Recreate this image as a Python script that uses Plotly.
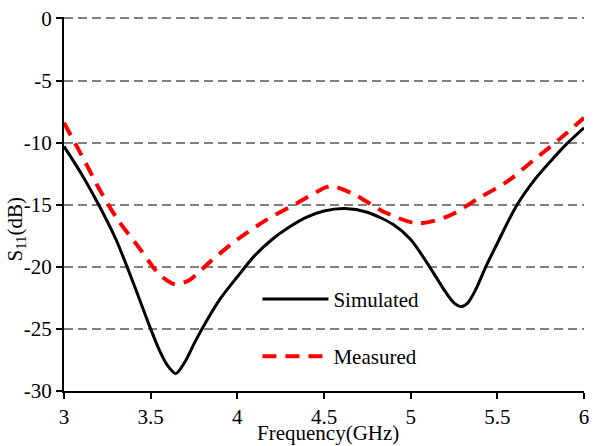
import plotly.graph_objects as go

sim_freq = [3.0, 3.1, 3.2, 3.3, 3.4, 3.5, 3.55, 3.6, 3.645, 3.7, 3.75, 3.8, 3.9, 4.0, 4.1, 4.2, 4.3, 4.4,
            4.5, 4.62, 4.75, 4.9, 5.0, 5.1, 5.2, 5.25, 5.29, 5.33, 5.38, 5.43, 5.5, 5.61, 5.72, 5.82, 5.9, 6.0]
sim_s11 = [-10.3, -12.5, -15.0, -17.8, -21.3, -25.0, -26.7, -28.0, -28.6, -27.6, -26.2, -24.9, -22.6, -20.8,
           -19.1, -17.8, -16.8, -16.0, -15.5, -15.3, -15.6, -16.6, -17.8, -19.8, -22.0, -22.9, -23.2, -22.9,
           -21.7, -20.1, -18.1, -15.1, -12.9, -11.3, -10.1, -8.8]

meas_freq = [3.0, 3.12, 3.21, 3.31, 3.43, 3.55, 3.64, 3.72, 3.85, 4.0, 4.17, 4.34, 4.51, 4.55, 4.68,
             4.85, 5.04, 5.22, 5.39, 5.56, 5.71, 5.86, 6.0]
meas_s11 = [-8.4, -11.5, -13.9, -16.2, -18.4, -20.6, -21.4, -21.1, -19.5, -17.8, -16.2, -14.9, -13.6,
            -13.5, -14.2, -15.6, -16.5, -15.9, -14.5, -13.1, -11.4, -9.7, -8.0]

x_ticks = [3, 3.5, 4, 4.5, 5, 5.5, 6]
x_tick_labels = ["3", "3.5", "4", "4.5", "5", "5.5", "6"]
y_ticks = [0, -5, -10, -15, -20, -25, -30]
y_tick_labels = ["0", "-5", "-10", "-15", "-20", "-25", "-30"]

font = "Liberation Serif"
fs = 21

fig = go.Figure()
fig.add_trace(go.Scatter(x=sim_freq, y=sim_s11, mode="lines", name="Simulated",
                         line=dict(color="black", width=3, shape="spline", smoothing=0.8),
                         legendgroup="a"))
fig.add_trace(go.Scatter(x=meas_freq, y=meas_s11, mode="lines", name="Measured",
                         line=dict(color="#ff0000", width=4, dash="14px,9px", shape="spline", smoothing=0.8),
                         legendgroup="b"))

fig.update_layout(
    width=595, height=446,
    margin=dict(l=64, r=6, t=17, b=55),
    paper_bgcolor="white", plot_bgcolor="white",
    font=dict(family=font, size=fs, color="black"),
    showlegend=True,
    legend=dict(x=0.372, y=0.30, xanchor="left", yanchor="top", bgcolor="rgba(0,0,0,0)",
                font=dict(family=font, size=fs), tracegroupgap=27, itemwidth=66),
    xaxis=dict(range=[3, 6], tickvals=x_ticks, ticktext=x_tick_labels, showgrid=False,
               showline=True, linecolor="black", linewidth=2, ticks="outside", ticklen=6,
               tickwidth=2, tickcolor="black", zeroline=False, tickfont=dict(family=font, size=fs)),
    yaxis=dict(range=[-30, 0.12], tickvals=y_ticks, ticktext=y_tick_labels, showgrid=True,
               gridcolor="#808080", griddash="9px,5px", gridwidth=2, showline=True,
               linecolor="black", linewidth=2, ticks="outside", ticklen=6, tickwidth=2,
               tickcolor="black", zeroline=False, tickfont=dict(family=font, size=fs)),
    annotations=[
        dict(text="S<sub>11</sub>(dB)", xref="paper", yref="paper", x=-0.093, y=0.431,
             xanchor="center", yanchor="middle", textangle=-90, showarrow=False,
             font=dict(family=font, size=fs)),
        dict(text="Frequency(GHz)", xref="paper", yref="paper", x=0.508, y=-0.112,
             xanchor="center", yanchor="middle", showarrow=False,
             font=dict(family=font, size=fs)),
    ],
)

fig.write_html("out.html", config={"displayModeBar": False},
               post_script="document.body.style.margin='0';document.body.style.padding='0';")
